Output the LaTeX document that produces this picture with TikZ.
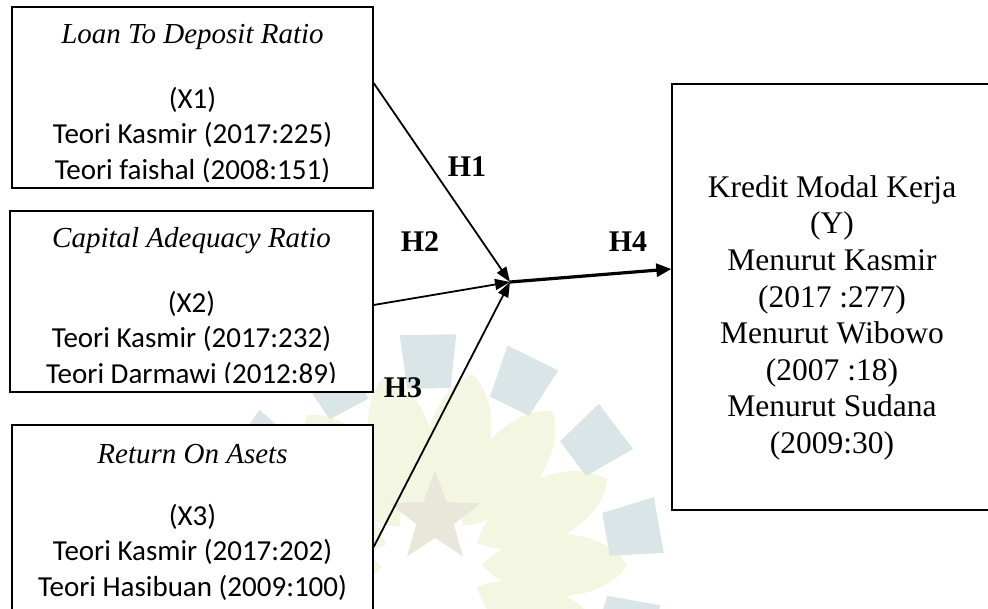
\documentclass[tikz,border=0pt]{standalone}
\usepackage{fontspec}
\setmainfont{Liberation Serif}
\newfontfamily\calibri{Carlito}
\usetikzlibrary{arrows.meta,shapes.geometric}

\definecolor{wmteal}{RGB}{218,229,232}
\definecolor{wmleaf}{RGB}{243,246,224}
\definecolor{wmstar}{RGB}{233,231,217}

\tikzset{
  varbox/.style={draw, fill=white, line width=1.3pt, inner sep=0pt},
  vartext/.style={align=center, inner sep=0pt, anchor=north, font=\fontsize{29}{35.5}\selectfont},
  ytext/.style={align=center, inner sep=0pt, anchor=north, font=\fontsize{31.5}{36.6}\selectfont},
  hyp/.style={inner sep=0pt, font=\fontsize{30}{36}\selectfont\bfseries},
  hyparrow/.style={line width=1.8pt, -{Triangle[length=15pt,width=11pt]}}
}

\begin{document}
\begin{tikzpicture}[x=1pt, y=-1pt]
  \useasboundingbox (0,0) rectangle (988,609);
  \clip (0,0) rectangle (988,609);
  % faint logo behind the diagram
  \begin{scope}[shift={(432,565)}, yscale=-1]
    \foreach \a in {-26,0,...,182}
      \fill[wmleaf] (\a:50) .. controls (\a+26:100) and (\a+13:175) .. (\a:195)
        .. controls (\a-13:175) and (\a-26:100) .. (\a:50);
    \foreach \a in {-17,10,...,172}
      \fill[wmteal] (\a-7:178) -- (\a-7:232) -- (\a+7:232) -- (\a+7:178) -- cycle;
  \end{scope}
  \node[star, star points=5, star point ratio=2.4, fill=wmstar, minimum size=95pt, inner sep=0pt] (logostar) at (435,518) {};

  % the variables
  \node[varbox, minimum width=361pt, minimum height=181pt] (x1) at (192.5,97.5) {};
  \node[varbox, minimum width=363pt, minimum height=181pt] (x2) at (191.5,301.5) {};
  \node[varbox, minimum width=361pt, minimum height=215pt] (x3) at (192.5,532.5) {};
  \node[varbox, minimum width=360pt, minimum height=426pt] (y) at (852,297) {};

  \begin{scope}
    \clip (12,7) rectangle (373,182);
    \node[vartext] (x1txt) at (192.5,18.15) {\strut{\itshape Loan To Deposit Ratio}\\[29.5pt]
      \calibri (X1)\\\calibri Teori Kasmir (2017:225)\\\calibri Teori faishal (2008:151)};
  \end{scope}
  \begin{scope}
    \clip (10,211) rectangle (373,383);
    \node[vartext] (x2txt) at (191.5,222.15) {\strut{\itshape Capital Adequacy Ratio}\\[29.5pt]
      \calibri (X2)\\\calibri Teori Kasmir (2017:232)\\\calibri Teori Darmawi (2012:89)};
  \end{scope}
  \node[vartext] (x3txt) at (192.5,438.15) {\strut{\itshape Return On Asets}\\[26.5pt]
    \calibri (X3)\\\calibri Teori Kasmir (2017:202)\\\calibri Teori Hasibuan (2009:100)};
  \node[ytext] (ytxt) at (832,171.4) {\strut Kredit Modal Kerja\\(Y)\\Menurut Kasmir\\(2017 :277)\\
    Menurut Wibowo\\(2007 :18)\\Menurut Sudana\\(2009:30)};

  % hypotheses
  \coordinate (m) at (510,282);
  \draw[hyparrow] ([yshift=14.5pt]x1.east) -- (m);
  \draw[hyparrow] ([yshift=-3.5pt]x2.east) -- (m);
  \draw[hyparrow] ([yshift=-14.5pt]x3.east) -- (m);
  \draw[hyparrow, line width=3.2pt, -{Triangle[length=15pt,width=13pt]}] (m) -- ([yshift=28pt]y.west);

  \node[hyp] (h1) at (467,167) {H1};
  \node[hyp] (h2) at (420,242) {H2};
  \node[hyp] (h3) at (403,388) {H3};
  \node[hyp] (h4) at (628,242) {H4};
\end{tikzpicture}
\end{document}
